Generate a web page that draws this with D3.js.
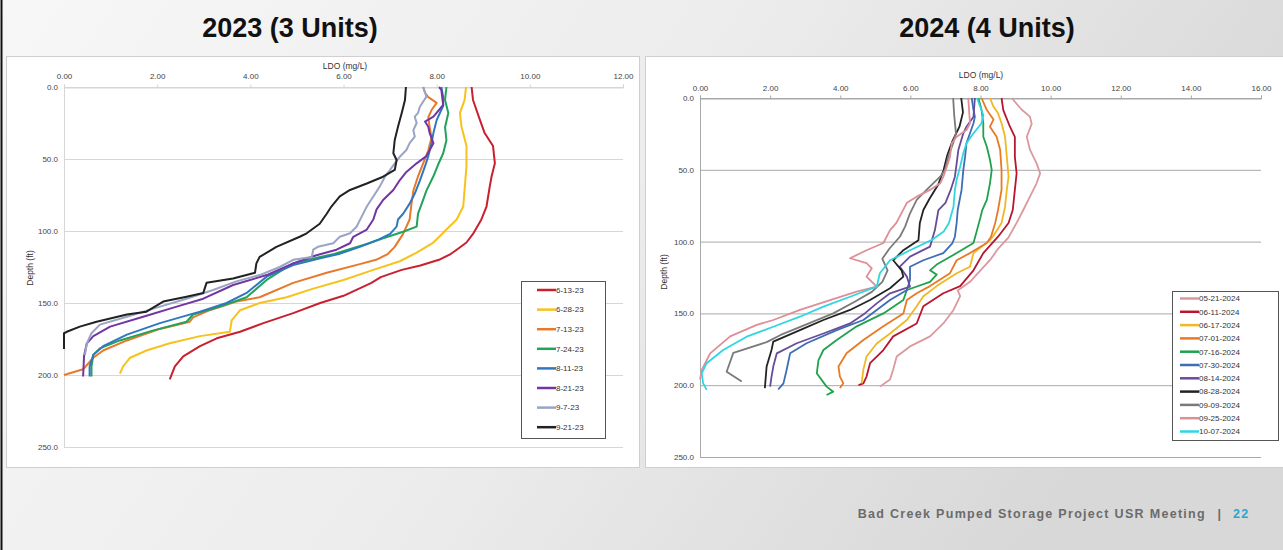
<!DOCTYPE html>
<html>
<head>
<meta charset="utf-8">
<script src="https://cdn.jsdelivr.net/npm/d3@7"></script>
<style>
  body { margin: 0; padding: 0; overflow: hidden; }
  svg { display: block; font-family: "Liberation Sans", Arial, sans-serif; }
</style>
</head>
<body>
<div id="chart"></div>
<script>
"use strict";

// ---- data: [depth (ft), LDO (mg/L)] ----
var s061323 = [[0,8.75],[9,8.78],[23,8.93],[32,9.03],[41,9.21],[53,9.25],[62,9.18],[69,9.14],[83,9.07],[92,8.96],[102,8.78],[108,8.64],[113,8.43],[116,8.3],[120,8.05],[124,7.65],[127,7.25],[132,6.8],[136,6.6],[145,6.0],[150,5.5],[157,4.92],[164,4.28],[170,3.78],[174.5,3.28],[180,2.92],[187,2.56],[194,2.38],[203,2.27]];
var s062823 = [[0,8.63],[9,8.6],[18,8.5],[27,8.53],[41,8.64],[55,8.64],[71,8.6],[83,8.57],[92,8.43],[99,8.21],[108,7.93],[115,7.57],[121,7.21],[127,6.64],[134,6.0],[140,5.35],[146,4.78],[150,4.2],[155,3.78],[162,3.6],[170,3.56],[173,2.92],[178,2.27],[183,1.77],[188,1.42],[194,1.27],[199,1.2]];
var s071323 = [[0,7.71],[4,7.75],[7,7.82],[11,8.0],[16,7.89],[21,7.82],[28,7.85],[35,7.89],[44,7.82],[53,7.71],[62,7.6],[72,7.5],[81,7.46],[92,7.42],[102,7.28],[111,7.1],[116,6.95],[120,6.7],[123,6.35],[129,5.64],[136,4.92],[146,4.2],[149,3.7],[155,3.13],[160,2.77],[163,2.7],[168,2.06],[176,1.35],[183,0.84],[188,0.63],[196,0.41],[200,0.0]];
var s072423 = [[0,8.21],[9,8.18],[18,8.25],[28,8.18],[37,8.21],[46,8.14],[54,8.03],[62,7.93],[72,7.78],[81,7.68],[88,7.6],[97,7.57],[100.5,7.28],[105,6.85],[109,6.5],[112,6.2],[116,5.8],[118,5.5],[122.5,4.92],[128,4.64],[134,4.35],[146,3.92],[152.5,3.35],[158,2.77],[163,2.63],[169,1.92],[176,1.2],[181.5,0.77],[186,0.63],[194,0.59],[201,0.59]];
var s081123 = [[0,8.1],[7,8.14],[13,8.14],[23,8.0],[32,7.93],[39,7.89],[48,7.82],[55,7.75],[65,7.64],[74,7.53],[81,7.42],[88,7.28],[92,7.17],[97,7.14],[102,7.0],[106,6.75],[111,6.35],[116,5.9],[119,5.5],[123.6,4.92],[131.7,4.35],[143,3.92],[150,3.49],[156,2.92],[164,2.06],[172,1.35],[180,0.84],[186,0.63],[194,0.55],[201,0.55]];
var s082123 = [[0,8.05],[2,8.1],[12.5,8.14],[20.6,7.93],[24,7.75],[27.6,7.82],[32,7.85],[39,7.93],[48,7.78],[53,7.57],[59,7.35],[64.6,7.21],[71.5,7.07],[78.5,6.85],[85,6.71],[92,6.64],[99,6.5],[104,6.21],[108.5,6.14],[113,5.85],[117,5.4],[122.5,4.92],[130.6,4.35],[137.5,3.63],[147,2.99],[152.5,2.42],[159.5,1.7],[166.4,0.99],[173,0.63],[178,0.49],[187,0.43],[201,0.41]];
var s090723 = [[0,7.71],[6.7,7.78],[13.7,7.64],[18,7.6],[20.6,7.53],[25,7.57],[30,7.5],[34.5,7.53],[39,7.42],[43.75,7.35],[48.4,7.21],[53,7.1],[57.6,7.0],[62.3,6.89],[69,6.78],[76,6.64],[83,6.5],[90,6.39],[97,6.28],[101.6,6.14],[104,5.92],[108.5,5.78],[111,5.45],[113,5.35],[118,5.32],[120,4.92],[125,4.63],[130.6,4.2],[135,3.7],[141,3.2],[147,2.63],[152.5,2.06],[159.5,1.35],[165,0.77],[171,0.59],[178,0.49],[186,0.45]];
var s092123 = [[0,7.34],[9,7.32],[18,7.25],[27.6,7.17],[36.8,7.1],[46,7.07],[50.7,7.14],[57.6,7.1],[62.3,6.85],[67,6.5],[71.5,6.14],[76,5.92],[83,5.74],[88,5.64],[95,5.49],[101.6,5.21],[104,5.06],[111,4.56],[118,4.2],[122.5,4.13],[129,4.1],[133,3.63],[136,3.06],[143,2.99],[145.6,2.63],[149,2.13],[156,1.77],[158,1.35],[163,0.7],[166.4,0.34],[170,0.06],[171,0.0],[182,0.0]];

var labels2023 = ["6-13-23", "6-28-23", "7-13-23", "7-24-23", "8-11-23", "8-21-23", "9-7-23", "9-21-23"];
var values2023 = [s061323, s062823, s071323, s072423, s081123, s082123, s090723, s092123];
var colors2023 = ["#c8202f", "#f7c21b", "#e8792a", "#21a35a", "#2f78bf", "#7136a3", "#9aa4c4", "#222222"];

var s20240521 = [[0,8.89],[8,9.17],[13,9.41],[18,9.46],[27,9.32],[36,9.41],[45.5,9.6],[52.5,9.7],[59.4,9.6],[68.7,9.41],[78,9.22],[87,9.03],[97,8.8],[105,8.5],[112,8.3],[120,8.0],[128,7.7],[134,7.35],[138,7.42],[147.6,7.23],[157,6.94],[166,6.56],[173,5.99],[180,5.61],[189,5.51],[196,5.42],[201,5.13]];
var s20240611 = [[0,8.6],[8.4,8.65],[20,8.84],[27,8.98],[41,8.98],[52.4,9.03],[64,8.98],[78,8.92],[87,8.8],[96.6,8.5],[108,8.08],[120,7.8],[131,7.42],[136,6.94],[145,6.37],[157,6.18],[166,5.51],[175.5,5.23],[184.7,4.85],[194,4.75],[198.7,4.66],[200,4.52]];
var s20240617 = [[0,8.27],[6,8.37],[10.7,8.5],[17.6,8.6],[27,8.7],[41,8.75],[54.8,8.8],[64,8.75],[75.7,8.7],[87,8.6],[96.6,8.35],[99,8.27],[108,7.8],[117.5,7.7],[122,7.32],[131,6.75],[138,6.37],[145,6.18],[154.6,5.9],[164,5.42],[171,5.04],[180,4.75],[189,4.66],[198.7,4.61]];
var s20240701 = [[0,8.03],[8.4,8.18],[15,8.37],[20,8.27],[27,8.46],[36,8.56],[50,8.6],[64,8.6],[78,8.5],[87,8.42],[96.6,8.3],[101,8.18],[108,7.7],[113,7.32],[122,7.13],[131,6.56],[136,6.18],[140.7,5.9],[150,5.8],[159,5.23],[168.5,4.66],[177.8,4.18],[187,3.95],[194,3.99],[198.7,4.09],[202,3.99]];
var s20240716 = [[0,7.94],[8.4,8.03],[17.6,8.08],[27,8.08],[34,8.18],[43,8.27],[50,8.32],[59.4,8.27],[71,8.18],[78,8.05],[83,8.0],[92,7.9],[101,7.8],[108,7.32],[116,6.75],[120,6.56],[123,6.75],[128,6.56],[133.7,5.9],[140.7,5.8],[150,5.23],[159,4.47],[168.5,3.9],[175.5,3.52],[182.5,3.38],[191.7,3.33],[201,3.61],[204.5,3.8],[206.8,3.61]];
var s20240730 = [[0,7.75],[8.4,7.8],[13,7.84],[17.6,7.8],[24.6,7.7],[31.5,7.6],[41,7.56],[50,7.51],[64,7.46],[78,7.35],[87,7.32],[96.6,7.27],[101,7.2],[108,6.94],[113,6.37],[117.5,5.99],[126.7,5.99],[133.7,5.9],[140.7,5.42],[147.6,5.04],[154.6,4.66],[161.6,3.9],[170.8,3.04],[177.8,2.57],[189.4,2.47],[198.7,2.38],[203,2.23]];
var s20240814 = [[0,7.84],[13,7.8],[20,7.6],[24.6,7.51],[36,7.37],[45.5,7.32],[54.8,7.27],[64,7.15],[73,7.0],[78,6.8],[92,6.7],[103.5,6.56],[110.5,5.99],[117.5,5.7],[124.4,5.9],[131.4,5.99],[136,5.42],[143,5.04],[150,4.7],[157,4.28],[164,3.52],[170.8,2.76],[177.8,2.19],[187,2.09],[194,2.04],[201,2.0]];
var s20240828 = [[0,7.45],[10,7.5],[20,7.4],[30,7.2],[40,7.05],[50,6.95],[60,6.8],[70,6.55],[78,6.37],[87,6.27],[99,6.23],[106,5.8],[113,5.51],[120,5.75],[124.4,5.8],[132.5,5.42],[140.7,4.85],[147.6,4.28],[154.6,3.52],[161.6,2.85],[169.7,2.09],[175.5,2.04],[187,1.9],[202,1.85]];
var s20240909 = [[0,7.22],[12,7.25],[24.6,7.3],[31.5,7.22],[41,7.08],[50,6.99],[54.8,6.85],[59.4,6.65],[64,6.46],[71,6.18],[80.3,5.99],[89.6,5.85],[96.6,5.7],[105,5.4],[112,5.2],[120,5.35],[128,5.2],[135,4.9],[142,4.4],[150,3.8],[158,3.0],[165,2.3],[170,1.9],[177.5,0.95],[190.6,0.76],[197.5,1.19]];
var s20240925 = [[0,7.65],[17.6,7.7],[22.3,7.6],[27,7.32],[31.5,7.18],[41,7.13],[47.8,7.04],[54.8,6.94],[59.4,6.85],[64,6.56],[68.7,6.18],[73,5.9],[80,5.75],[87,5.6],[92,5.42],[101,5.23],[106,4.75],[111.6,4.28],[115,4.75],[118.6,4.9],[124.4,4.75],[131.4,5.04],[134.9,4.47],[140.7,3.71],[147.6,2.85],[154.6,2.09],[158,1.62],[166,0.86],[177.8,0.29],[189.4,0.05],[196,0.0]];
var s20241007 = [[0,7.9],[11.8,8.08],[17.6,8.03],[24.6,7.8],[31.5,7.6],[38.5,7.51],[47.8,7.42],[57,7.32],[64,7.27],[75.7,7.23],[87,7.1],[93,6.95],[99,6.6],[106,5.99],[113,5.42],[122,5.13],[131.4,5.04],[138.4,4.28],[145.3,3.52],[152.3,2.85],[159.3,2.09],[166.2,1.33],[175.5,0.66],[184.7,0.19],[191.7,0.05],[198.7,0.09],[203.3,0.19]];

var labels2024 = ["05-21-2024", "06-11-2024", "06-17-2024", "07-01-2024", "07-16-2024", "07-30-2024", "08-14-2024", "08-28-2024", "09-09-2024", "09-25-2024", "10-07-2024"];
var values2024 = [s20240521, s20240611, s20240617, s20240701, s20240716, s20240730, s20240814, s20240828, s20240909, s20240925, s20241007];
var colors2024 = ["#d9999e", "#b8152e", "#f2b723", "#e87a22", "#1fa24e", "#3c6db5", "#6a4b9b", "#232323", "#7a7a7a", "#de8e97", "#2fd6e2"];

var xTicks2023 = [0, 2, 4, 6, 8, 10, 12];
var xTicks2024 = [0, 2, 4, 6, 8, 10, 12, 14, 16];
var depthTicks = [0, 50, 100, 150, 200, 250];

var titles = ["2023 (3 Units)", "2024 (4 Units)"];
var footerText = "Bad Creek Pumped Storage Project USR Meeting";
var pageNumber = "22";

var W = 1283, H = 550;

var svg = d3.select("#chart").append("svg")
    .attr("width", W)
    .attr("height", H);

// background gradient like the slide
var defs = svg.append("defs");
var grad = defs.append("linearGradient")
    .attr("id", "bg")
    .attr("x1", "0%").attr("y1", "0%")
    .attr("x2", "100%").attr("y2", "30%");
grad.append("stop").attr("offset", "0%").attr("stop-color", "#f7f7f7");
grad.append("stop").attr("offset", "55%").attr("stop-color", "#ececec");
grad.append("stop").attr("offset", "100%").attr("stop-color", "#d8d8d8");

svg.append("rect")
    .attr("width", W).attr("height", H)
    .attr("fill", "url(#bg)");

// left black edge
svg.append("line")
    .attr("x1", 1.5).attr("x2", 1.5)
    .attr("y1", 0).attr("y2", H)
    .attr("stroke", "#111")
    .attr("stroke-width", 2);

// titles
svg.selectAll("text.title")
    .data(titles)
    .enter()
    .append("text")
    .attr("class", "title")
    .attr("x", function (d, i) { return i === 0 ? 290 : 987; })
    .attr("y", 37)
    .attr("text-anchor", "middle")
    .attr("font-size", 27)
    .attr("font-weight", "bold")
    .attr("fill", "#111")
    .text(function (d) { return d; });

// footer
var footer = svg.append("g")
    .attr("font-size", 12.5)
    .attr("font-weight", "bold")
    .attr("letter-spacing", 1.3)
    .attr("fill", "#6b6b6b");
footer.append("text")
    .attr("x", 1206).attr("y", 518)
    .attr("text-anchor", "end")
    .text(footerText);
footer.append("text")
    .attr("x", 1220).attr("y", 518)
    .attr("text-anchor", "middle")
    .text("|");
footer.append("text")
    .attr("x", 1233).attr("y", 518)
    .attr("fill", "#2aa6cf")
    .text(pageNumber);

function drawPanel(cfg) {
    var g = svg.append("g");

    //panel box
    g.append("rect")
        .attr("x", cfg.box[0]).attr("y", cfg.box[1])
        .attr("width", cfg.box[2]).attr("height", cfg.box[3])
        .attr("fill", "#fff")
        .attr("stroke", "#cfcfcf");

    var x = d3.scaleLinear().domain(cfg.xDomain).range(cfg.xRange);
    var y = d3.scaleLinear().domain([0, 250]).range(cfg.yRange);

    //horizontal gridlines
    g.append("g")
        .selectAll("line")
        .data(depthTicks)
        .enter()
        .append("line")
        .attr("x1", cfg.xRange[0]).attr("x2", cfg.xRange[1])
        .attr("y1", function (d) { return y(d) + 0.5; })
        .attr("y2", function (d) { return y(d) + 0.5; })
        .attr("stroke", cfg.grid)
        .attr("stroke-width", 1);

    //vertical axis line
    g.append("line")
        .attr("x1", cfg.xRange[0] + 0.5).attr("x2", cfg.xRange[0] + 0.5)
        .attr("y1", cfg.yRange[0]).attr("y2", cfg.yRange[1])
        .attr("stroke", cfg.grid);

    //x axis on top
    var xAxis = g.append("g")
        .attr("transform", "translate(0," + (cfg.yRange[0] + 0.5) + ")")
        .call(d3.axisTop(x).tickValues(cfg.xTicks).tickFormat(d3.format(".2f")).tickSize(3).tickPadding(cfg.xPad));
    xAxis.select(".domain").attr("stroke", cfg.grid);
    xAxis.selectAll(".tick line").attr("stroke", cfg.grid);
    xAxis.selectAll("text").attr("font-size", 8).attr("fill", "#444").attr("font-family", "Liberation Sans, Arial, sans-serif");

    //y axis
    var yAxis = g.append("g")
        .attr("transform", "translate(" + cfg.xRange[0] + ",0)")
        .call(d3.axisLeft(y).tickValues(depthTicks).tickFormat(d3.format(".1f")).tickSize(0).tickPadding(6));
    yAxis.select(".domain").remove();
    yAxis.selectAll("text").attr("font-size", 8).attr("fill", "#444").attr("font-family", "Liberation Sans, Arial, sans-serif");

    //axis titles
    g.append("text")
        .attr("x", cfg.xTitle[0]).attr("y", cfg.xTitle[1])
        .attr("text-anchor", "middle")
        .attr("font-size", 8.5)
        .attr("fill", "#333")
        .text("LDO (mg/L)");
    g.append("text")
        .attr("transform", "translate(" + cfg.yTitle[0] + "," + cfg.yTitle[1] + ") rotate(-90)")
        .attr("text-anchor", "middle")
        .attr("font-size", 8.5)
        .attr("fill", "#333")
        .text("Depth (ft)");

    //profile lines
    var line = d3.line()
        .x(function (d) { return x(d[1]); })
        .y(function (d) { return y(d[0]); });

    g.append("g")
        .selectAll("path")
        .data(cfg.values)
        .enter()
        .append("path")
        .attr("d", line)
        .attr("fill", "none")
        .attr("stroke", function (d, i) { return cfg.colors[i]; })
        .attr("stroke-width", cfg.lineW)
        .attr("stroke-linejoin", "round");

    //legend
    var lg = g.append("g");
    lg.append("rect")
        .attr("x", cfg.legend[0] + 0.5).attr("y", cfg.legend[1] + 0.5)
        .attr("width", cfg.legend[2]).attr("height", cfg.legend[3])
        .attr("fill", "#fff")
        .attr("stroke", "#555");
    var rows = lg.selectAll("g.row")
        .data(cfg.labels)
        .enter()
        .append("g")
        .attr("class", "row")
        .attr("transform", function (d, i) {
            return "translate(" + (cfg.legend[0] + cfg.legendPad) + "," + (cfg.legend[1] + cfg.legendTop + i * cfg.legendStep) + ")";
        });
    rows.append("line")
        .attr("x1", 0).attr("x2", 19)
        .attr("stroke", function (d, i) { return cfg.colors[i]; })
        .attr("stroke-width", 2.5);
    rows.append("text")
        .attr("x", 19)
        .attr("dy", "0.35em")
        .attr("font-size", 8)
        .attr("fill", "#333")
        .text(function (d) { return d; });
}

drawPanel({
    box: [6.5, 56.5, 633, 411],
    xDomain: [0, 12], xRange: [64, 623],
    yRange: [87, 447],
    xTicks: xTicks2023, xPad: 6,
    grid: "#d6d6d6",
    xTitle: [345, 69], yTitle: [33, 268],
    values: values2023, colors: colors2023, labels: labels2023,
    lineW: 2,
    legend: [521, 281, 84, 157], legendPad: 16, legendTop: 9, legendStep: 19.6
});

drawPanel({
    box: [645.5, 56.5, 640, 411],
    xDomain: [0, 16], xRange: [700, 1261],
    yRange: [98, 457],
    xTicks: xTicks2024, xPad: 5,
    grid: "#a9a9a9",
    xTitle: [981, 78], yTitle: [667, 272],
    values: values2024, colors: colors2024, labels: labels2024,
    lineW: 1.8,
    legend: [1172, 291, 106, 149], legendPad: 8, legendTop: 7.5, legendStep: 13.3
});
</script>
</body>
</html>
